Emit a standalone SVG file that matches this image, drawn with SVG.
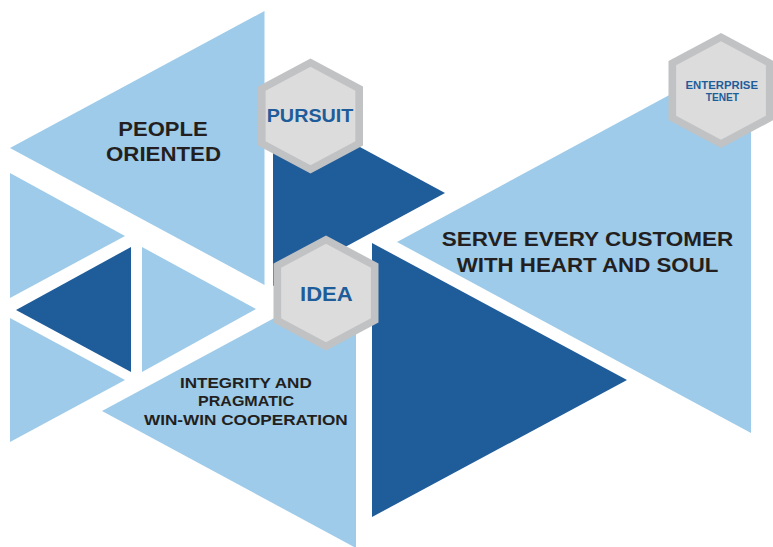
<svg xmlns="http://www.w3.org/2000/svg" xmlns:xlink="http://www.w3.org/1999/xlink" width="773" height="547" viewBox="0 0 773 547">
  <style>
    .lt { fill: #9dcbe9; }
    .dk { fill: #1f5c9a; }
    .hexo { fill: #c1c2c4; }
    .hexi { fill: #dcdcdd; }
    .tb { font-family: "Liberation Sans", Arial, sans-serif; font-weight: bold; fill: #231f20; }
    .tl { font-family: "Liberation Sans", Arial, sans-serif; font-weight: bold; fill: #1f5c9a; }
  </style>
  <defs>
    <polygon id="hex" points="0,-57.5 52.5,-29.5 52.5,29.5 0,57.5 -52.5,29.5 -52.5,-29.5"/>
  </defs>
  <rect width="773" height="547" fill="#ffffff"/>

  <g id="decor-triangles">
    <polygon class="lt" points="10,173 125,236 10,298"/>
    <polygon class="dk" points="16,310 131,247 131,372"/>
    <polygon class="lt" points="142,247 256,309 142,372"/>
    <polygon class="lt" points="10,318 125,380 10,442"/>
    <polygon class="dk" points="273,100 445,193 273,286"/>
    <polygon class="dk" points="372,243 627,380 372,517"/>
  </g>

  <g id="people-oriented">
    <polygon class="lt" points="10,148 264.5,11 264.5,285"/>
    <text class="tb" font-size="20" x="118.3" y="136" textLength="89.3" lengthAdjust="spacingAndGlyphs">PEOPLE</text>
    <text class="tb" font-size="20" x="106" y="160.5" textLength="115" lengthAdjust="spacingAndGlyphs">ORIENTED</text>
  </g>

  <g id="integrity">
    <polygon class="lt" points="102,411 356,274 356,548"/>
    <text class="tb" font-size="15.5" x="180" y="387.5" textLength="131.7" lengthAdjust="spacingAndGlyphs">INTEGRITY AND</text>
    <text class="tb" font-size="15.5" x="198" y="406" textLength="96" lengthAdjust="spacingAndGlyphs">PRAGMATIC</text>
    <text class="tb" font-size="15.5" x="144" y="424.5" textLength="203.7" lengthAdjust="spacingAndGlyphs">WIN-WIN COOPERATION</text>
  </g>

  <g id="serve-customer">
    <polygon class="lt" points="397,242 751,51 751,433"/>
    <text class="tb" font-size="20" x="441.7" y="245.7" textLength="291.5" lengthAdjust="spacingAndGlyphs">SERVE EVERY CUSTOMER</text>
    <text class="tb" font-size="20" x="456.7" y="271.7" textLength="261.7" lengthAdjust="spacingAndGlyphs">WITH HEART AND SOUL</text>
  </g>

  <g id="pursuit">
    <use xlink:href="#hex" class="hexo" transform="translate(310.5,116)"/>
    <use xlink:href="#hex" class="hexi" transform="translate(310.5,116) scale(0.855)"/>
    <text class="tl" font-size="18.5" x="266.7" y="122" textLength="86.7" lengthAdjust="spacingAndGlyphs">PURSUIT</text>
  </g>

  <g id="idea">
    <use xlink:href="#hex" class="hexo" transform="translate(326,293)"/>
    <use xlink:href="#hex" class="hexi" transform="translate(326,293) scale(0.855)"/>
    <text class="tl" font-size="20.5" x="300" y="301" textLength="52.7" lengthAdjust="spacingAndGlyphs">IDEA</text>
  </g>

  <g id="enterprise-tenet">
    <use xlink:href="#hex" class="hexo" transform="translate(721,90.5)"/>
    <use xlink:href="#hex" class="hexi" transform="translate(721,90.5) scale(0.855)"/>
    <text class="tl" font-size="10.5" x="685.5" y="89.3" textLength="72.5" lengthAdjust="spacingAndGlyphs">ENTERPRISE</text>
    <text class="tl" font-size="10.5" x="705.7" y="100.8" textLength="33.3" lengthAdjust="spacingAndGlyphs">TENET</text>
  </g>
</svg>
